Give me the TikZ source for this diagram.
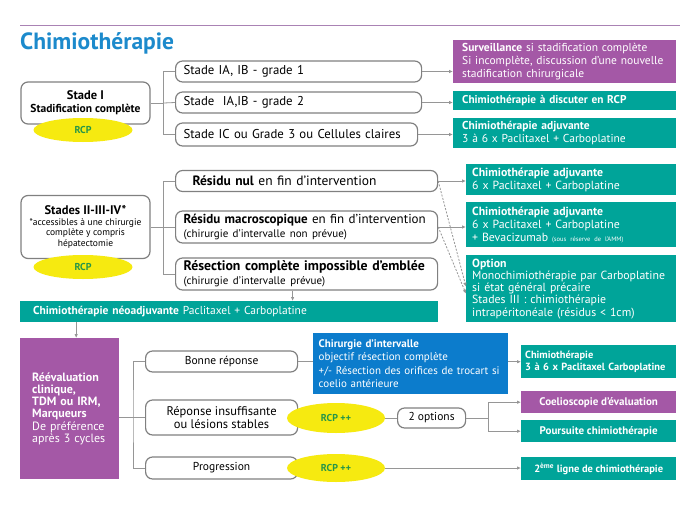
\documentclass[tikz,border=0pt]{standalone}
\usepackage{fontspec}
\setmainfont{PT Sans}
\usetikzlibrary{positioning,arrows.meta,shapes.geometric,calc}

\definecolor{chimteal}{RGB}{0,164,153}
\definecolor{chimpurple}{RGB}{164,88,166}
\definecolor{chimblue}{RGB}{12,124,204}
\definecolor{rcpyellow}{RGB}{246,234,16}
\definecolor{rcpgreen}{RGB}{38,150,72}
\definecolor{titleblue}{RGB}{28,138,204}
\definecolor{boxgray}{RGB}{128,128,128}
\definecolor{linkgray}{RGB}{150,150,150}
\definecolor{rulepurple}{RGB}{170,130,180}

\begin{document}
\begin{tikzpicture}[
  x=1pt, y=-1pt,
  every node/.style={font=\fontsize{11.5}{13.5}\selectfont},
  stagebox/.style={rectangle, draw=boxgray, line width=1.2pt, rounded corners=7pt,
                   fill=white, align=center, minimum width=129pt},
  pill/.style={rectangle, draw=boxgray, line width=1.2pt, rounded corners=7pt,
               fill=white, anchor=west, align=left, inner xsep=8pt,
               font=\fontsize{12.8}{14}\selectfont},
  rcp/.style={ellipse, fill=rcpyellow, text=rcpgreen, inner sep=0pt,
              font=\bfseries\fontsize{10}{12}\selectfont, minimum width=99pt, minimum height=24pt},
  fillbox/.style={rectangle, anchor=north west, text=white, inner xsep=9pt, inner ysep=2pt,
                  align=left, font=\fontsize{11.5}{13}\selectfont},
  tealbox/.style={fillbox, fill=chimteal},
  purplebox/.style={fillbox, fill=chimpurple},
  bluebox/.style={fillbox, fill=chimblue},
  link/.style={draw=linkgray, line width=0.8pt},
  arrow/.style={link, -{Latex[length=4pt,width=3.5pt]}},
  dasharrow/.style={arrow, dash pattern=on 2pt off 1.5pt}
]
\useasboundingbox[fill=white] (0,0) rectangle (689,517);

% title
\draw[rulepurple, line width=0.8pt] (20,25) -- (680,25);
\node[anchor=west, inner sep=0pt, text=titleblue, font=\bfseries\fontsize{23.5}{26}\selectfont] (title) at (20,43) {Chimiothérapie};

% stade I
\node[stagebox, minimum height=42pt, font=\bfseries\fontsize{11.5}{13}\selectfont] (st1) at (85.5,103)
  {{\fontsize{12.5}{14}\selectfont Stade I}\\Stadification complète};
\node[rcp] (rcp1) at (83,130) {RCP};

\node[pill, text width=230pt, minimum height=21pt] (s1a) at (175,71.5) {Stade IA, IB - grade 1};
\node[pill, text width=230pt, minimum height=21pt] (s1b) at (175,102.5) {Stade\ \ IA,IB - grade 2};
\node[pill, text width=226pt, minimum height=23pt] (s1c) at (175,134.5) {Stade IC ou Grade 3 ou Cellules claires};

\node[purplebox, text width=205pt, minimum width=223pt, minimum height=43pt] (r1a) at (453,40)
  {{\bfseries Surveillance} si stadification complète\\Si incomplète, discussion d'une nouvelle\\stadification chirurgicale};
\node[tealbox, text width=205pt, minimum width=223pt, minimum height=19pt,
      font=\bfseries\fontsize{11.3}{13}\selectfont] (r1b) at (453,91)
  {Chimiothérapie à discuter en RCP};
\node[tealbox, text width=205pt, minimum width=223pt, minimum height=30pt] (r1c) at (453,118)
  {{\bfseries Chimiothérapie adjuvante}\\3 à 6 x Paclitaxel + Carboplatine};

\coordinate[right=13pt of st1.east] (j1);
\draw[link] (st1.east) -- (j1);
\draw[link] (s1a.west) -| (j1) |- (s1c.west);
\draw[link] (j1) -- (s1b.west);
\draw[arrow] (s1a.east) -- (s1a.east -| r1a.west);
\draw[arrow] (s1b.east) -- (s1b.east -| r1b.west);
\draw[arrow] (s1c.east) -- (s1c.east -| r1c.west);

% stades II-III-IV
\node[stagebox, minimum height=63pt, font=\fontsize{9.5}{10.5}\selectfont] (st2) at (85.5,227)
  {{\bfseries\fontsize{12.5}{14}\selectfont Stades II-III-IV*}\\*accessibles à une chirurgie\\complète y compris\\hépatectomie};
\node[rcp] (rcp2) at (83,267) {RCP};

\node[pill, inner xsep=17pt, text width=228pt, minimum height=21pt, font=\fontsize{13.5}{15}\selectfont] (s2a) at (175,181)
  {{\bfseries Résidu nul} en fin d'intervention};
\node[pill, text width=246pt, minimum height=32pt, inner ysep=2pt, font=\fontsize{13}{14}\selectfont] (s2b) at (175,227)
  {{\bfseries Résidu macroscopique} en fin d'intervention\\\fontsize{11}{12}\selectfont (chirurgie d'intervalle non prévue)};
\node[pill, text width=246pt, minimum height=32pt, inner ysep=2pt, font=\fontsize{13.8}{14}\selectfont] (s2c) at (175,274)
  {{\bfseries Résection complète impossible d'emblée}\\\fontsize{11}{12}\selectfont (chirurgie d'intervalle prévue)};

\node[tealbox, inner xsep=6pt, text width=198pt, minimum width=210pt, minimum height=31pt,
      font=\fontsize{11.8}{12.8}\selectfont] (r2a) at (466,164)
  {{\bfseries Chimiothérapie adjuvante}\\6 x Paclitaxel + Carboplatine};
\node[tealbox, inner xsep=6pt, text width=198pt, minimum width=210pt, minimum height=45pt,
      font=\fontsize{11.8}{12.8}\selectfont] (r2b) at (466,202)
  {{\bfseries Chimiothérapie adjuvante}\\6 x Paclitaxel + Carboplatine\\+ Bevacizumab {\fontsize{6.5}{7}\selectfont (sous réserve de l'AMM)}};
\node[tealbox, inner xsep=6pt, text width=198pt, minimum width=210pt, minimum height=67pt,
      font=\fontsize{11.8}{12.3}\selectfont] (r2c) at (466,255)
  {{\bfseries Option}\\Monochimiothérapie par Carboplatine\\si état général précaire\\Stades III : chimiothérapie\\intrapéritonéale (résidus < 1cm)};

\coordinate[right=13pt of st2.east] (j2);
\draw[link] (st2.east) -- (j2);
\draw[link] (s2a.west) -| (j2) |- (s2c.west);
\draw[link] (j2) -- (s2b.west);
\draw[arrow] (s2a.east) -- (s2a.east -| r2a.west);
\draw[arrow] (s2b.east) -- (s2b.east -| r2b.west);
\draw[dasharrow] (s2a.east) -- ([yshift=2pt]r2c.west);
\draw[dasharrow] (s2b.east) -- ([yshift=-5pt]r2c.west);

% neoadjuvant
\node[tealbox, inner xsep=13pt, text width=392pt, minimum width=418pt, minimum height=21pt] (neo) at (20,301)
  {{\bfseries Chimiothérapie néoadjuvante} Paclitaxel + Carboplatine};
\draw[arrow] ([xshift=-14pt]s2c.south) -- ([xshift=-14pt]s2c.south |- neo.north);

% reevaluation
\node[purplebox, inner xsep=12pt, text width=75pt, minimum width=99pt, minimum height=141pt,
      font=\fontsize{12}{12.3}\selectfont] (reev) at (20,338)
  {\bfseries Réévaluation\\clinique,\\TDM ou IRM,\\Marqueurs\\\mdseries De préférence\\après 3 cycles};
\draw[arrow] ([xshift=6.5pt]reev.north |- neo.south) -- ([xshift=6.5pt]reev.north);

\node[pill, align=center, minimum width=152pt, minimum height=21pt, font=\fontsize{11.5}{13}\selectfont] (b1) at (145,361.5) {Bonne réponse};
\node[pill, align=center, minimum width=152pt, minimum height=35pt,
      font=\fontsize{12.5}{13}\selectfont] (b2) at (145,417.5) {Réponse insuffisante\\ou lésions stables};
\node[pill, align=center, minimum width=152pt, minimum height=22pt, font=\fontsize{11.5}{13}\selectfont] (b3) at (145,468) {Progression};

\coordinate[left=12pt of b2.west] (j3);
\draw[link] (reev.east |- j3) -- (b2.west);
\draw[link] (b1.west) -| (j3) |- (b3.west);

\node[bluebox, inner xsep=5.5pt, text width=184pt, minimum width=195pt, minimum height=61pt,
      font=\fontsize{11}{13.5}\selectfont] (blue) at (313,333)
  {{\bfseries Chirurgie d'intervalle}\\objectif résection complète\\+/- Résection des orifices de trocart si\\coelio antérieure};
\draw[link] (b1.east) -- (b1.east -| blue.west);

\node[tealbox, inner xsep=4pt, text width=147pt, minimum width=155pt, minimum height=33pt,
      font=\bfseries\fontsize{10.4}{12.5}\selectfont] (chim3) at (521,345)
  {Chimiothérapie\\3 à 6 x Paclitaxel Carboplatine};
\draw[arrow] (blue.east |- chim3.west) -- (chim3.west);

\node[rcp, minimum width=98pt, minimum height=30pt] (rcp3) at (336,418) {RCP ++};
\node[rcp, minimum width=98pt, minimum height=28pt] (rcp4) at (336,468) {RCP ++};

\node[pill, align=center, minimum width=68pt, minimum height=20pt, inner xsep=4pt, font=\fontsize{11.5}{13}\selectfont] (opt) at (397,418) {2 options};
\draw[link] (rcp3.east) -- (opt.west);

\node[purplebox, align=center, minimum width=155pt, minimum height=22pt, font=\bfseries\fontsize{11}{12.5}\selectfont] (coel) at (521,391)
  {Coelioscopie d'évaluation};
\node[tealbox, align=center, minimum width=155pt, minimum height=22pt, font=\bfseries\fontsize{11}{12.5}\selectfont] (pours) at (521,420)
  {Poursuite chimiothérapie};
\node[tealbox, align=center, minimum width=155pt, minimum height=23pt, font=\bfseries\fontsize{10.5}{12.5}\selectfont] (ligne2) at (521,457)
  {2\textsuperscript{ème} ligne de chimiothérapie};

\coordinate[right=22pt of opt.east] (j4);
\draw[link] (opt.east) -- (j4);
\draw[arrow] (j4) |- (coel.west);
\draw[arrow] (j4) |- (pours.west);
\draw[arrow] (rcp4.east) -- (rcp4.east -| ligne2.west);
\end{tikzpicture}
\end{document}
